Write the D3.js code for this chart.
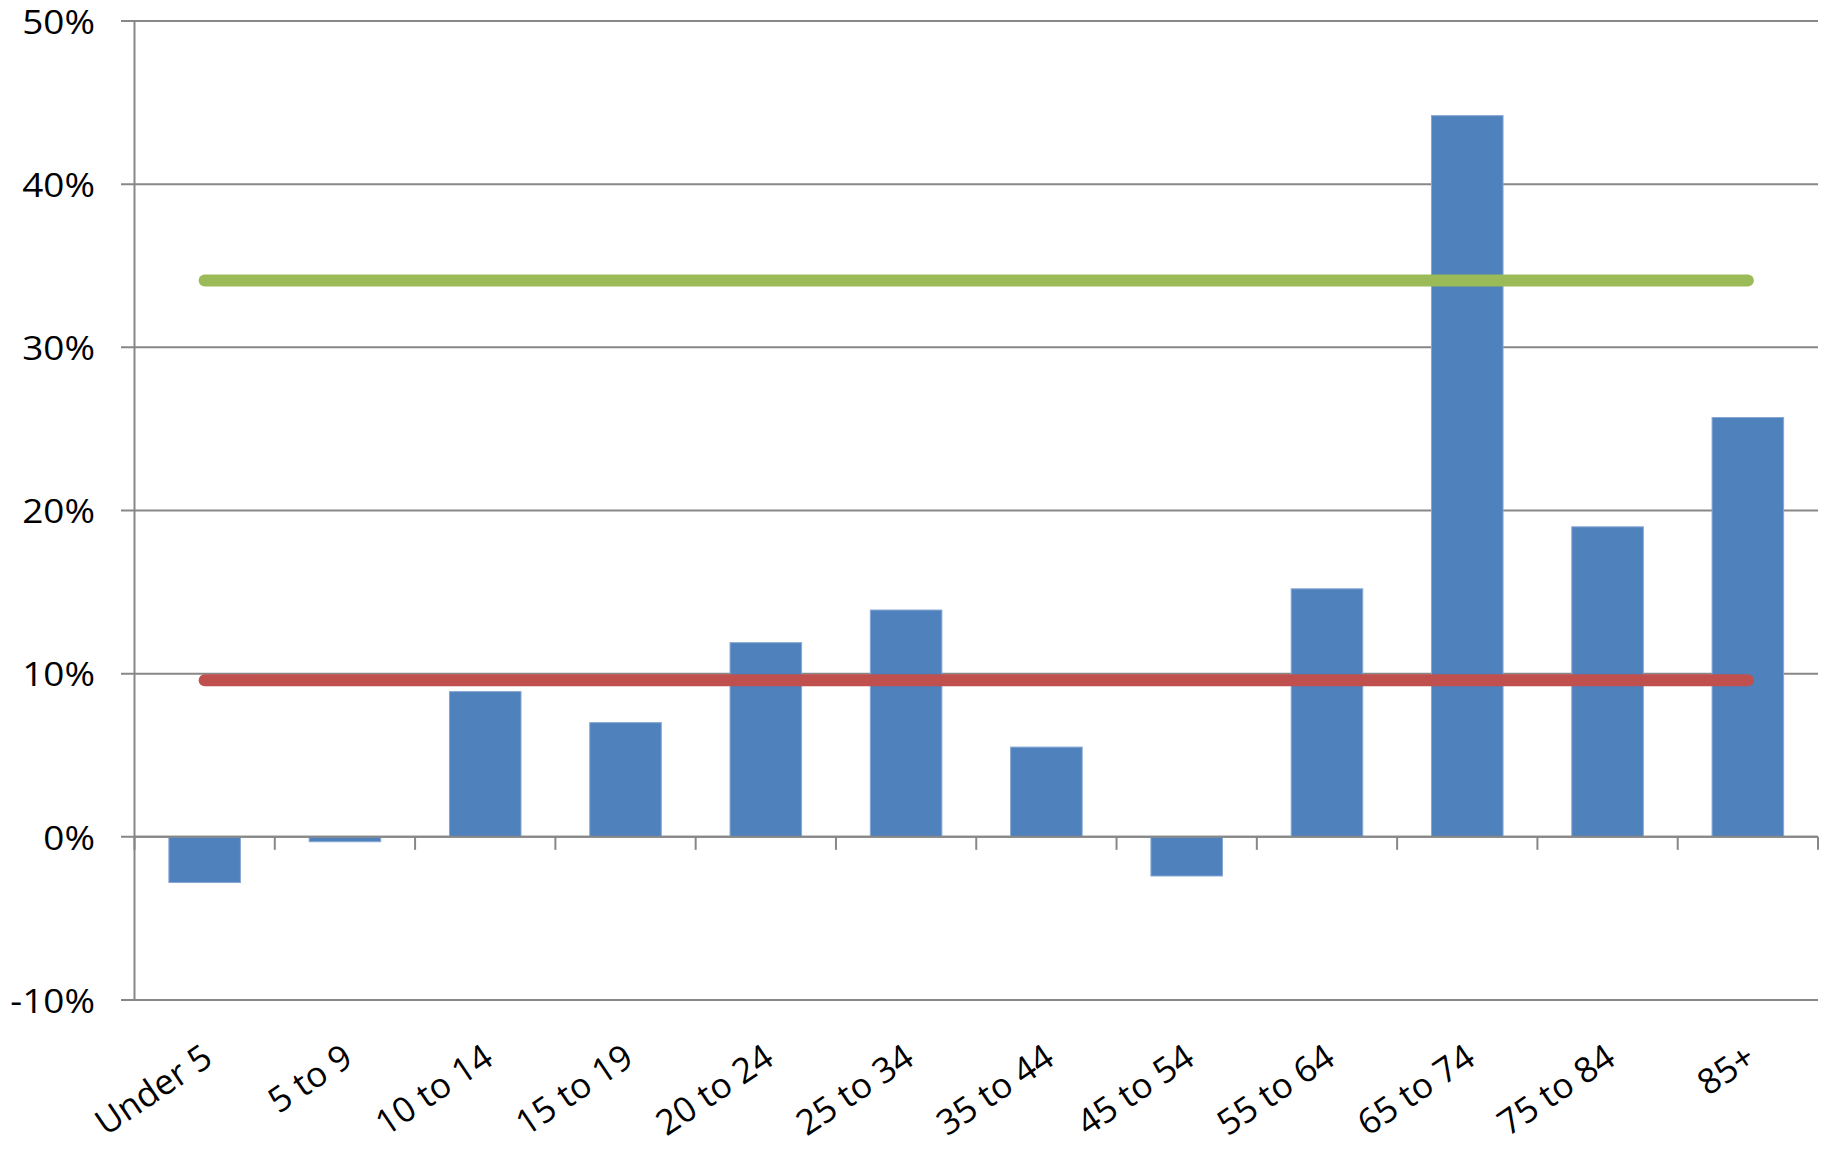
<!doctype html>
<html>
<head>
<meta charset="utf-8">
<style>
    body { margin: 0; background: #fff; }
    text { font-family: "Open Sans", "Noto Sans", sans-serif; fill: #000; }
</style>
<script src="https://d3js.org/d3.v7.min.js"></script>
</head>
<body>
<svg width="1831" height="1150"></svg>
<script>
    // age groups and percent change
    var categories = ["Under 5", "5 to 9", "10 to 14", "15 to 19", "20 to 24", "25 to 34",
                      "35 to 44", "45 to 54", "55 to 64", "65 to 74", "75 to 84", "85+"];
    var growth = [-2.8, -0.3, 8.9, 7.0, 11.9, 13.9, 5.5, -2.4, 15.2, 44.2, 19.0, 25.7];
    var lowLine = [9.6, 9.6, 9.6, 9.6, 9.6, 9.6, 9.6, 9.6, 9.6, 9.6, 9.6, 9.6];
    var highLine = [34.1, 34.1, 34.1, 34.1, 34.1, 34.1, 34.1, 34.1, 34.1, 34.1, 34.1, 34.1];
    var yTicks = [-10, 0, 10, 20, 30, 40, 50];

    var svg = d3.select("svg");
    var plotLeft = 134.5, plotRight = 1818, plotTop = 21, plotBottom = 1000;

    var x = d3.scaleBand().domain(categories).range([plotLeft, plotRight])
              .paddingInner(0.49).paddingOuter(0.245);
    var y = d3.scaleLinear().domain([-10, 50]).range([plotBottom, plotTop]);
    var cx = function(c) { return x(c) + x.bandwidth() / 2; };

    // gridlines
    svg.append("g").selectAll("line")
       .data(yTicks)
       .enter().append("line")
       .attr("x1", 121).attr("x2", plotRight)
       .attr("y1", function(d) { return y(d); })
       .attr("y2", function(d) { return y(d); })
       .attr("stroke", "#878787")
       .attr("stroke-width", 2);

    // y axis line
    svg.append("line")
       .attr("x1", plotLeft).attr("x2", plotLeft)
       .attr("y1", plotTop).attr("y2", plotBottom)
       .attr("stroke", "#878787")
       .attr("stroke-width", 2);

    // y labels
    svg.append("g").selectAll("text")
       .data(yTicks)
       .enter().append("text")
       .attr("transform", function(d) { return "translate(95," + y(d) + ") scale(1.12,1)"; })
       .attr("text-anchor", "end")
       .attr("dominant-baseline", "central")
       .attr("font-size", "33px")
       .text(function(d) { return d + "%"; });

    // category tick marks at slot edges
    var edges = categories.map(function(c) { return cx(c) - x.step() / 2; });
    edges.push(cx(categories[categories.length - 1]) + x.step() / 2);
    svg.append("g").selectAll("line")
       .data(edges)
       .enter().append("line")
       .attr("x1", function(d) { return d; })
       .attr("x2", function(d) { return d; })
       .attr("y1", y(0)).attr("y2", y(0) + 13)
       .attr("stroke", "#878787")
       .attr("stroke-width", 2);

    // bars
    svg.append("g").selectAll("rect")
       .data(categories)
       .enter().append("rect")
       .attr("x", function(c) { return x(c); })
       .attr("y", function(c, i) { return y(Math.max(0, growth[i])); })
       .attr("width", x.bandwidth())
       .attr("height", function(c, i) { return Math.abs(y(growth[i]) - y(0)); })
       .attr("fill", "#4f81bd")
       .attr("stroke", "#86a7d2")
       .attr("stroke-width", 1);

    // zero axis on top of bars
    svg.append("line")
       .attr("x1", plotLeft).attr("x2", plotRight)
       .attr("y1", y(0)).attr("y2", y(0))
       .attr("stroke", "#878787")
       .attr("stroke-width", 2);

    // reference lines
    var line = d3.line()
                 .x(function(d, i) { return cx(categories[i]); })
                 .y(function(d) { return y(d); });

    svg.append("path")
       .attr("d", line(lowLine))
       .attr("fill", "none")
       .attr("stroke", "#c0504d")
       .attr("stroke-width", 12)
       .attr("stroke-linecap", "round");

    svg.append("path")
       .attr("d", line(highLine))
       .attr("fill", "none")
       .attr("stroke", "#9bbb59")
       .attr("stroke-width", 12)
       .attr("stroke-linecap", "round");

    // category labels, rotated
    svg.append("g").selectAll("text")
       .data(categories)
       .enter().append("text")
       .attr("transform", function(c) {
           return "translate(" + (cx(c) + 10) + "," + 1063 + ") rotate(-34)";
       })
       .attr("text-anchor", "end")
       .attr("font-size", "35px")
       .text(function(c) { return c; });
</script>
</body>
</html>
